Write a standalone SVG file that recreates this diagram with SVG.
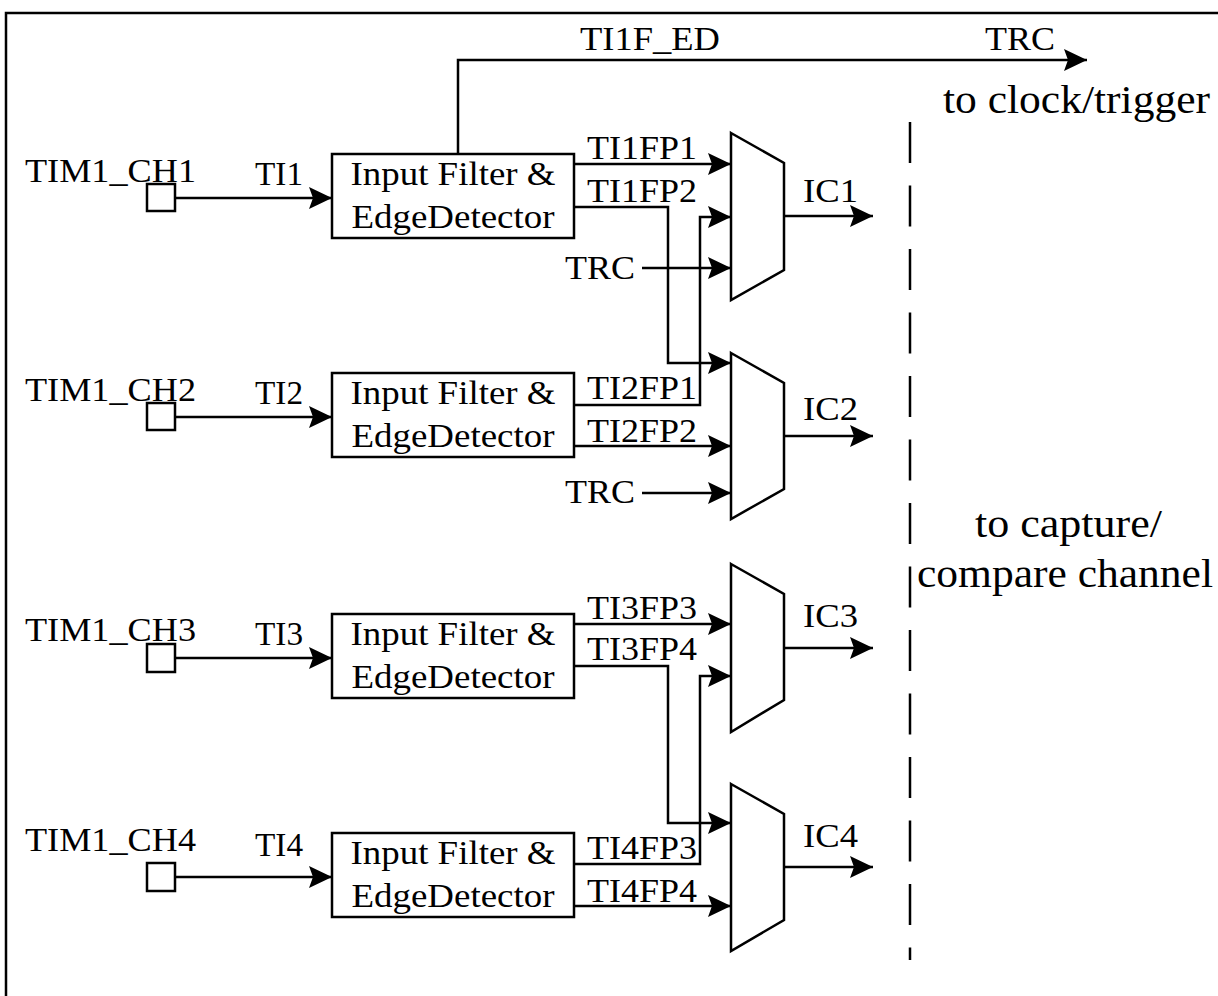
<svg xmlns="http://www.w3.org/2000/svg" width="1218" height="996" viewBox="0 0 1218 996">
<style>
.ln{fill:none;stroke:#000;stroke-width:2.5}
.bx{fill:#fff;stroke:#000;stroke-width:2.5}
.t{font-family:"Liberation Serif","Times New Roman",serif;font-size:34px;fill:#000}
.tb{font-family:"Liberation Serif","Times New Roman",serif;font-size:40px;fill:#000}
.dash{fill:none;stroke:#000;stroke-width:2.5;stroke-dasharray:41 22.5}
</style>
<defs>
<marker id="ah" markerUnits="userSpaceOnUse" markerWidth="24" markerHeight="24" refX="23" refY="11" orient="auto" viewBox="0 0 24 24">
<path d="M0,0 L23,11 L0,22 L4,11 z" fill="#000"/>
</marker>
</defs>
<rect width="1218" height="996" fill="#fff"/>
<path class="ln" d="M6,1000 V13 H1220"/>

<g id="ch1">
<text class="t" x="25" y="182" textLength="171" lengthAdjust="spacingAndGlyphs">TIM1_CH1</text>
<rect class="bx" x="147" y="184" width="28" height="27"/>
<text class="t" x="255" y="185" textLength="48" lengthAdjust="spacingAndGlyphs">TI1</text>
</g>
<g id="ch2">
<text class="t" x="25" y="401" textLength="171" lengthAdjust="spacingAndGlyphs">TIM1_CH2</text>
<rect class="bx" x="147" y="403" width="28" height="27"/>
<text class="t" x="255" y="404" textLength="48" lengthAdjust="spacingAndGlyphs">TI2</text>
</g>
<g id="ch3">
<text class="t" x="25" y="641" textLength="171" lengthAdjust="spacingAndGlyphs">TIM1_CH3</text>
<rect class="bx" x="147" y="644" width="28" height="28"/>
<text class="t" x="255" y="645" textLength="48" lengthAdjust="spacingAndGlyphs">TI3</text>
</g>
<g id="ch4">
<text class="t" x="25" y="851" textLength="171" lengthAdjust="spacingAndGlyphs">TIM1_CH4</text>
<rect class="bx" x="147" y="863" width="28" height="28"/>
<text class="t" x="255" y="856" textLength="48" lengthAdjust="spacingAndGlyphs">TI4</text>
</g>

<g id="filter1">
<rect class="bx" x="332" y="154" width="242" height="84"/>
<text class="t" x="453" y="185" text-anchor="middle" textLength="205" lengthAdjust="spacingAndGlyphs">Input Filter &amp;</text>
<text class="t" x="453" y="228" text-anchor="middle" textLength="203" lengthAdjust="spacingAndGlyphs">EdgeDetector</text>
</g>
<g id="filter2">
<rect class="bx" x="332" y="373" width="242" height="84"/>
<text class="t" x="453" y="404" text-anchor="middle" textLength="205" lengthAdjust="spacingAndGlyphs">Input Filter &amp;</text>
<text class="t" x="453" y="447" text-anchor="middle" textLength="203" lengthAdjust="spacingAndGlyphs">EdgeDetector</text>
</g>
<g id="filter3">
<rect class="bx" x="332" y="614" width="242" height="84"/>
<text class="t" x="453" y="645" text-anchor="middle" textLength="205" lengthAdjust="spacingAndGlyphs">Input Filter &amp;</text>
<text class="t" x="453" y="688" text-anchor="middle" textLength="203" lengthAdjust="spacingAndGlyphs">EdgeDetector</text>
</g>
<g id="filter4">
<rect class="bx" x="332" y="833" width="242" height="84"/>
<text class="t" x="453" y="864" text-anchor="middle" textLength="205" lengthAdjust="spacingAndGlyphs">Input Filter &amp;</text>
<text class="t" x="453" y="907" text-anchor="middle" textLength="203" lengthAdjust="spacingAndGlyphs">EdgeDetector</text>
</g>

<g id="mux1"><polygon class="bx" points="731,133 784,163 784,270 731,300"/></g>
<g id="mux2"><polygon class="bx" points="731,353 784,383 784,489 731,519"/></g>
<g id="mux3"><polygon class="bx" points="731,564 784,594 784,700 731,732"/></g>
<g id="mux4"><polygon class="bx" points="731,784 784,814 784,920 731,951"/></g>

<g id="connectors">
<path class="ln" d="M175,198 H332" marker-end="url(#ah)"/>
<path class="ln" d="M175,417 H332" marker-end="url(#ah)"/>
<path class="ln" d="M175,658 H332" marker-end="url(#ah)"/>
<path class="ln" d="M175,877 H332" marker-end="url(#ah)"/>
<path class="ln" d="M458,154 V60 H1087" marker-end="url(#ah)"/>
<path class="ln" d="M574,164 H731" marker-end="url(#ah)"/>
<path class="ln" d="M574,207 H668 V363 H731" marker-end="url(#ah)"/>
<path class="ln" d="M642,268 H731" marker-end="url(#ah)"/>
<path class="ln" d="M574,405 H700 V217 H731" marker-end="url(#ah)"/>
<path class="ln" d="M574,446 H731" marker-end="url(#ah)"/>
<path class="ln" d="M642,493 H731" marker-end="url(#ah)"/>
<path class="ln" d="M574,624 H731" marker-end="url(#ah)"/>
<path class="ln" d="M574,666 H668 V823 H731" marker-end="url(#ah)"/>
<path class="ln" d="M574,864 H700 V676 H731" marker-end="url(#ah)"/>
<path class="ln" d="M574,906 H731" marker-end="url(#ah)"/>
<path class="ln" d="M784,216 H873" marker-end="url(#ah)"/>
<path class="ln" d="M784,436 H873" marker-end="url(#ah)"/>
<path class="ln" d="M784,648 H873" marker-end="url(#ah)"/>
<path class="ln" d="M784,867 H873" marker-end="url(#ah)"/>
<path class="dash" d="M910,122 V960"/>
</g>

<g id="labels">
<text class="t" x="580" y="50" textLength="140" lengthAdjust="spacingAndGlyphs">TI1F_ED</text>
<text class="t" x="985" y="50" textLength="70" lengthAdjust="spacingAndGlyphs">TRC</text>
<text class="tb" x="943" y="113" textLength="267" lengthAdjust="spacingAndGlyphs">to clock/trigger</text>
<text class="t" x="587" y="159" textLength="110" lengthAdjust="spacingAndGlyphs">TI1FP1</text>
<text class="t" x="587" y="202" textLength="110" lengthAdjust="spacingAndGlyphs">TI1FP2</text>
<text class="t" x="565" y="279" textLength="70" lengthAdjust="spacingAndGlyphs">TRC</text>
<text class="t" x="587" y="399" textLength="110" lengthAdjust="spacingAndGlyphs">TI2FP1</text>
<text class="t" x="587" y="442" textLength="110" lengthAdjust="spacingAndGlyphs">TI2FP2</text>
<text class="t" x="565" y="503" textLength="70" lengthAdjust="spacingAndGlyphs">TRC</text>
<text class="t" x="587" y="619" textLength="110" lengthAdjust="spacingAndGlyphs">TI3FP3</text>
<text class="t" x="587" y="660" textLength="110" lengthAdjust="spacingAndGlyphs">TI3FP4</text>
<text class="t" x="587" y="859" textLength="110" lengthAdjust="spacingAndGlyphs">TI4FP3</text>
<text class="t" x="587" y="902" textLength="110" lengthAdjust="spacingAndGlyphs">TI4FP4</text>
<text class="t" x="803" y="202" textLength="55" lengthAdjust="spacingAndGlyphs">IC1</text>
<text class="t" x="803" y="420" textLength="55" lengthAdjust="spacingAndGlyphs">IC2</text>
<text class="t" x="803" y="627" textLength="55" lengthAdjust="spacingAndGlyphs">IC3</text>
<text class="t" x="803" y="847" textLength="55" lengthAdjust="spacingAndGlyphs">IC4</text>
<text class="tb" x="975" y="537" textLength="187" lengthAdjust="spacingAndGlyphs">to capture/</text>
<text class="tb" x="917" y="587" textLength="296" lengthAdjust="spacingAndGlyphs">compare channel</text>
</g>
</svg>
